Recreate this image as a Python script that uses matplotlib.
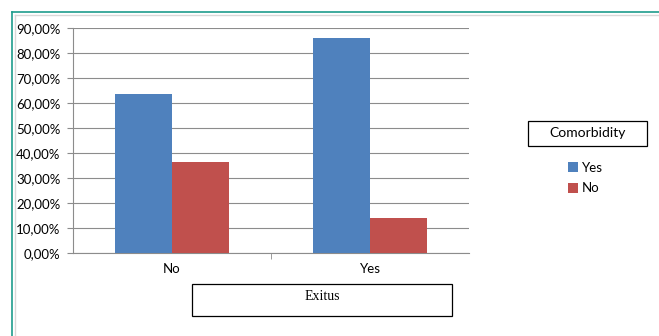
import matplotlib.pyplot as plt
from matplotlib.patches import Rectangle
from matplotlib.lines import Line2D
from matplotlib.ticker import FuncFormatter
import numpy as np

# data
exitus = ["No", "Yes"]
comorb_yes = [63.6, 86.0]
comorb_no = [36.4, 14.0]
series_names = ["Yes", "No"]

BLUE = "#4F81BD"
RED = "#C0504D"
GRID = "#8C8C8C"

plt.rcParams['font.family'] = ['Lato', 'DejaVu Sans']

fig = plt.figure(figsize=(6.59, 3.36), dpi=100)
W, H = 659, 336

def fx(px):
    return px / W

def fy(py):
    return 1 - py / H

# outer frame: teal line + light gray inner line
fig.add_artist(Line2D([fx(11.5), 1], [fy(11.5), fy(11.5)], color="#1E9C8C", lw=1.2))
fig.add_artist(Line2D([fx(11.5), fx(11.5)], [fy(11.5), 0], color="#1E9C8C", lw=1.2))
fig.add_artist(Line2D([fx(14.5), 1], [fy(14.5), fy(14.5)], color="#D8D8D8", lw=1.0))
fig.add_artist(Line2D([fx(14.5), fx(14.5)], [fy(14.5), 0], color="#D8D8D8", lw=1.0))

ax = fig.add_axes([fx(73), fy(253), fx(469) - fx(73), fy(28) - fy(253)])

x = np.arange(len(exitus))
bw = 0.289
ax.bar(x - bw / 2, comorb_yes, bw, color=BLUE, label=series_names[0], zorder=3)
ax.bar(x + bw / 2, comorb_no, bw, color=RED, label=series_names[1], zorder=3)

ax.set_xlim(-0.5, 1.5)
ax.set_ylim(0, 90)
ax.set_yticks(np.arange(0, 91, 10))
ax.yaxis.set_major_formatter(FuncFormatter(lambda v, p: f"{v:.2f}%".replace(".", ",")))
ax.set_xticks(x)
ax.set_xticklabels(exitus)
ax.set_xticks([0.5], minor=True)
ax.tick_params(axis="x", which="major", length=0, pad=7, labelsize=9.5)
ax.tick_params(axis="x", which="minor", length=4, color=GRID, direction="out")
ax.tick_params(axis="y", length=4, color=GRID, pad=5, labelsize=9.5)

ax.grid(axis="y", color=GRID, lw=0.8, zorder=0)
for s in ["top", "right"]:
    ax.spines[s].set_visible(False)
for s in ["left", "bottom"]:
    ax.spines[s].set_color(GRID)
    ax.spines[s].set_linewidth(0.8)

# axis title box
fig.add_artist(Rectangle((fx(192), fy(316)), fx(452) - fx(192), fy(284) - fy(316),
                         fill=False, edgecolor="black", lw=0.9))
fig.text(fx(322), fy(297), "Exitus", ha="center", va="center",
         family="Liberation Serif", fontsize=10)

# legend title box
fig.add_artist(Rectangle((fx(528), fy(146)), fx(647) - fx(528), fy(121) - fy(146),
                         fill=False, edgecolor="black", lw=0.9))
fig.text(fx(587.5), fy(133), "Comorbidity", ha="center", va="center", fontsize=10)

fig.legend(loc="upper left", bbox_to_anchor=(fx(556), fy(150)), frameon=False,
           fontsize=9.5, handlelength=0.75, handleheight=0.75, handletextpad=0.3,
           labelspacing=0.65)

fig.savefig("out.png", dpi=100)
